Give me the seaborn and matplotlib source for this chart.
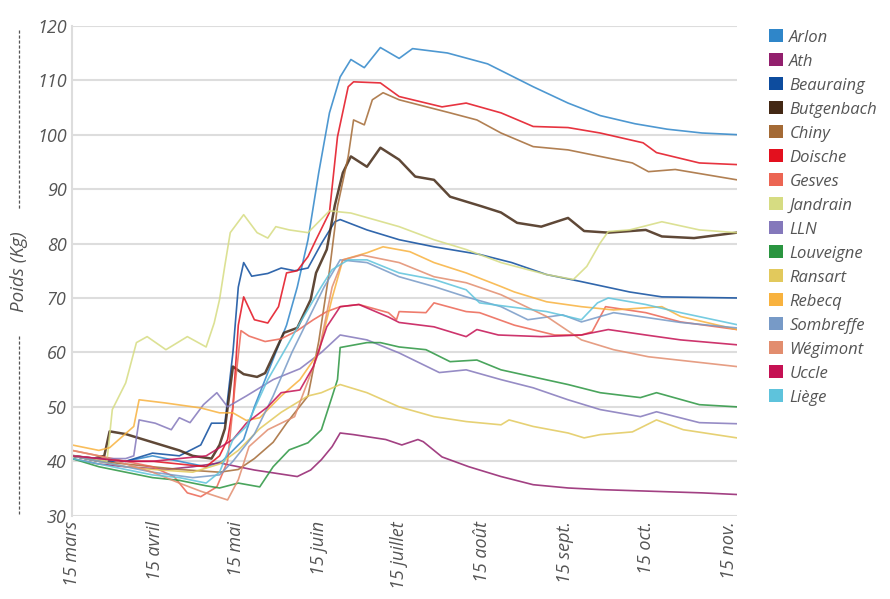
import matplotlib
matplotlib.use("Agg")
import matplotlib.pyplot as plt
import matplotlib.patches as mpatches
from matplotlib.lines import Line2D
import seaborn as sns
import pandas as pd

# days counted from 15 March
arlon_day = [0, 10, 20, 30, 40, 50, 56, 60, 64, 68, 72, 76, 80, 84, 88, 92, 96, 100, 104, 109, 115, 122, 127, 140, 155, 172, 185, 197, 210, 222, 235, 248]
arlon_kg = [41, 40, 40, 41, 40, 39, 40, 42, 44, 50, 55, 60, 65, 72, 80.7, 93, 104, 110.6, 113.8, 112.3, 116, 114, 115.8, 115, 113, 108.8, 105.8, 103.5, 102, 101, 100.3, 100]

ath_day = [0, 10, 20, 35, 45, 55, 68, 80, 84, 89, 93, 97, 100, 105, 117, 123, 129, 131, 138, 148, 160, 172, 185, 197, 235, 248]
ath_kg = [40.5, 39.5, 39, 38.5, 39, 39.7, 38.4, 37.5, 37.2, 38.4, 40.3, 42.7, 45.2, 44.9, 44, 43, 44, 43.6, 40.8, 39, 37.2, 35.7, 35.1, 34.8, 34.2, 33.9]

beauraing_day = [0, 10, 20, 30, 40, 48, 52, 57, 60, 62, 64, 67, 73, 78, 83, 88, 93, 98, 100, 110, 122, 135, 152, 164, 177, 190, 208, 220, 248]
beauraing_kg = [41, 40, 40, 41.5, 41, 43, 47, 47, 60, 72, 76.5, 74, 74.5, 75.5, 75, 75.5, 80, 84, 84.4, 82.5, 80.7, 79.4, 78, 76.5, 74.3, 73, 71.1, 70.2, 70]

butgenbach_day = [0, 8, 12, 14, 20, 30, 40, 45, 52, 55, 57, 60, 64, 69, 72, 79, 84, 89, 91, 95, 98, 101, 104, 110, 115, 122, 128, 135, 141, 153, 160, 166, 175, 185, 191, 200, 214, 220, 232, 248]
butgenbach_kg = [41, 40.5, 41, 45.5, 45, 43.5, 42, 41, 40.5, 43, 46, 57.4, 56, 55.5, 56.2, 63.6, 64.5, 69.7, 74.6, 78.9, 87, 93, 96, 94.1, 97.6, 95.4, 92.3, 91.7, 88.6, 86.8, 85.7, 83.8, 83.1, 84.7, 82.3, 82, 82.5, 81.3, 81, 82]

chiny_day = [0, 10, 20, 30, 40, 55, 62, 68, 75, 80, 88, 92, 96, 99, 103, 105, 109, 112, 116, 122, 141, 151, 160, 172, 185, 197, 209, 215, 225, 248]
chiny_kg = [41, 40, 39.5, 39, 38.5, 38, 38.5, 40.5, 43.5, 47, 52, 62, 75, 86.8, 96, 102.7, 101.8, 106.4, 107.7, 106.4, 104, 102.7, 100.3, 97.8, 97.2, 96, 94.8, 93.2, 93.6, 91.7]

doische_day = [0, 10, 20, 30, 40, 50, 55, 58, 60, 62, 64, 68, 73, 77, 80, 84, 88, 91, 96, 99, 103, 105, 115, 122, 138, 147, 160, 172, 185, 197, 213, 218, 234, 248]
doische_kg = [41, 40.5, 40, 40, 39.5, 39, 41, 44, 50, 65, 70.2, 66, 65.4, 68.4, 74.6, 75, 77.6, 80.7, 85.7, 99.6, 108.8, 109.7, 109.5, 107, 105.1, 105.8, 104, 101.5, 101.3, 100.3, 98.5, 96.7, 94.8, 94.5]

gesves_day = [0, 10, 20, 30, 38, 43, 48, 54, 58, 61, 63, 66, 72, 78, 84, 90, 95, 100, 107, 118, 121, 122, 132, 135, 147, 152, 165, 180, 190, 194, 199, 214, 227, 248]
gesves_kg = [42, 41, 40, 39, 37.2, 34.2, 33.5, 35.3, 40, 55, 64, 63, 62, 62.5, 64, 66, 67.5, 68.4, 68.8, 67.3, 66, 67.5, 67.3, 69.1, 67.5, 67.3, 65, 63.2, 63.2, 63.8, 68.4, 67.3, 65.6, 64.2]

jandrain_day = [0, 8, 13, 15, 20, 24, 28, 35, 43, 50, 53, 55, 57, 59, 64, 69, 73, 76, 81, 88, 96, 104, 122, 135, 147, 160, 170, 177, 187, 192, 197, 200, 208, 220, 234, 248]
jandrain_kg = [41, 40.5, 40, 49.5, 54.4, 61.8, 62.9, 60.5, 62.9, 61, 65.4, 69.7, 76, 82, 85.3, 82, 81, 83.1, 82.5, 82, 86, 85.6, 83.1, 80.7, 78.9, 76.5, 75.2, 74.3, 73.4, 75.8, 80.1, 82.2, 82.5, 84, 82.5, 82]

lln_day = [0, 10, 20, 23, 25, 31, 37, 40, 44, 49, 54, 58, 65, 75, 85, 93, 100, 110, 122, 137, 147, 160, 172, 185, 197, 212, 218, 234, 248]
lln_kg = [41, 40.5, 40.5, 41, 47.6, 47, 45.8, 48, 47.1, 50.4, 52.6, 50, 52, 55, 57, 60, 63.2, 62.3, 59.9, 56.3, 56.8, 55, 53.5, 51.3, 49.5, 48.2, 49.1, 47.1, 46.9]

louveigne_day = [0, 10, 20, 30, 40, 50, 55, 62, 70, 75, 81, 88, 93, 97, 99, 100, 110, 115, 122, 132, 141, 151, 160, 172, 185, 197, 212, 218, 234, 248]
louveigne_kg = [40.5, 39, 38, 37, 36.5, 35.5, 35.1, 36, 35.3, 39, 42.1, 43.4, 45.8, 51.9, 55, 60.9, 61.8, 61.8, 61, 60.5, 58.3, 58.6, 56.8, 55.5, 54.1, 52.6, 51.7, 52.6, 50.4, 50]

ransart_day = [0, 10, 20, 30, 45, 55, 62, 70, 78, 88, 93, 100, 110, 122, 135, 147, 160, 163, 172, 185, 191, 197, 209, 218, 228, 248]
ransart_kg = [41, 40, 39, 38.5, 38, 39.5, 42, 46, 49, 52, 52.6, 54.1, 52.6, 50, 48.2, 47.3, 46.7, 47.6, 46.4, 45.2, 44.3, 44.9, 45.4, 47.6, 45.8, 44.3]

rebecq_day = [0, 10, 14, 23, 25, 35, 48, 55, 60, 65, 70, 78, 85, 92, 97, 101, 110, 116, 126, 135, 147, 160, 165, 177, 190, 202, 220, 227, 248]
rebecq_kg = [43, 42, 42.5, 46.4, 51.3, 50.7, 49.8, 48.9, 48.9, 47.5, 48, 52, 55, 60, 70, 77, 78.3, 79.4, 78.5, 76.5, 74.6, 72.1, 71.1, 69.3, 68.4, 67.8, 68.4, 66.6, 64.2]

sombreffe_day = [0, 10, 20, 30, 45, 55, 60, 68, 75, 82, 88, 94, 100, 110, 122, 135, 147, 160, 170, 183, 190, 202, 227, 248]
sombreffe_kg = [41, 40, 39, 38, 37, 37.5, 40, 45, 52, 60, 66, 72, 77, 76.5, 73.9, 72.1, 70.2, 68.4, 66, 66.9, 65.6, 67.3, 65.5, 64.5]

wegimont_day = [0, 10, 20, 30, 40, 48, 58, 62, 66, 73, 83, 92, 97, 101, 108, 122, 135, 147, 160, 177, 190, 202, 215, 248]
wegimont_kg = [42, 41, 39.5, 38, 36, 34.5, 32.9, 36.6, 42.7, 45.8, 48.2, 60, 72, 77, 77.9, 76.5, 73.9, 72.8, 70.6, 66.6, 62.3, 60.5, 59.2, 57.4]

uccle_day = [0, 10, 20, 30, 40, 50, 60, 65, 73, 78, 85, 90, 95, 100, 107, 118, 122, 135, 147, 151, 159, 175, 190, 200, 214, 227, 248]
uccle_kg = [41, 40.5, 40, 40, 40.5, 41, 44, 47, 50, 52.6, 53.1, 57.4, 64.7, 68.4, 68.8, 66.5, 65.5, 64.7, 62.9, 64.2, 63.2, 62.9, 63.2, 64.2, 63.2, 62.3, 61.4]

liege_day = [0, 10, 20, 30, 40, 50, 55, 60, 65, 73, 80, 85, 93, 97, 103, 110, 122, 135, 147, 152, 177, 190, 196, 200, 214, 227, 248]
liege_kg = [40.5, 39.5, 38.5, 37.5, 37, 36, 38, 44, 46.4, 55, 61, 65.4, 72.1, 75.2, 77, 77, 74.6, 73.4, 71.5, 69.1, 67.5, 66, 69.1, 70, 68.8, 67.3, 65.1]

sites = ["Arlon", "Ath", "Beauraing", "Butgenbach", "Chiny", "Doische", "Gesves", "Jandrain",
         "LLN", "Louveigne", "Ransart", "Rebecq", "Sombreffe", "Wégimont", "Uccle", "Liège"]
site_days = [arlon_day, ath_day, beauraing_day, butgenbach_day, chiny_day, doische_day, gesves_day, jandrain_day,
             lln_day, louveigne_day, ransart_day, rebecq_day, sombreffe_day, wegimont_day, uccle_day, liege_day]
site_kg = [arlon_kg, ath_kg, beauraing_kg, butgenbach_kg, chiny_kg, doische_kg, gesves_kg, jandrain_kg,
           lln_kg, louveigne_kg, ransart_kg, rebecq_kg, sombreffe_kg, wegimont_kg, uccle_kg, liege_kg]
colors = ["#2f86c9", "#921f6d", "#0d4c9e", "#432814", "#a46a35", "#e3101e", "#ec6553", "#d6dc82",
          "#8478bb", "#2a9540", "#e2c95c", "#f8b23e", "#779ac7", "#e28d6e", "#c51153", "#5ec3dc"]

tick_labels = ["15 mars", "15 avril", "15 mai", "15 juin", "15 juillet", "15 août", "15 sept.", "15 oct.", "15 nov."]

start = pd.Timestamp("2013-03-15")
frames = []
for name, days, kg in zip(sites, site_days, site_kg):
    frames.append(pd.DataFrame({"date": start + pd.to_timedelta(days, unit="D"), "kg": kg, "site": name}))
df = pd.concat(frames, ignore_index=True)

sns.set_style("white")
plt.rcParams['font.family'] = ['Open Sans', 'DejaVu Sans']

fig, ax = plt.subplots(figsize=(8.9, 5.99), dpi=100)
fig.subplots_adjust(left=0.081, right=0.828, bottom=0.139, top=0.957)

sns.lineplot(data=df, x="date", y="kg", hue="site", hue_order=sites,
             palette=dict(zip(sites, colors)), estimator=None, linewidth=1.2,
             legend=False, ax=ax)
for line, name in zip(ax.lines, sites):
    line.set_alpha(0.85)
    if name == "Butgenbach":
        line.set_linewidth(1.8)

ax.set_ylim(30, 120)
ax.set_xlim(start, start + pd.Timedelta(days=248))
ax.set_yticks(range(30, 121, 10))
ax.set_xticks([pd.Timestamp(2013, m, 15) for m in range(3, 12)])
ax.set_xticklabels(tick_labels, rotation=90)
ax.set_xlabel("")
ax.set_ylabel("")
ax.grid(axis="y", color="#dddddd", linewidth=1.5)
ax.set_axisbelow(True)
for s in ["top", "right", "bottom"]:
    ax.spines[s].set_visible(False)
ax.spines["left"].set_color("#dddddd")
ax.spines["left"].set_linewidth(1.5)
ax.tick_params(length=0, pad=4, labelsize=13, labelcolor="#555555")
for lbl in ax.get_xticklabels() + ax.get_yticklabels():
    lbl.set_style("italic")

# y label with dashed lines
fig.text(0.021, 1 - 272 / 599, "Poids (Kg)", rotation=90, ha="center", va="center",
         fontsize=13.5, style="italic", color="#555555")
fig.add_artist(Line2D([0.021, 0.021], [1 - 30 / 599, 1 - 210 / 599], color="#555555",
                      linewidth=0.9, linestyle=(0, (2.5, 1.5))))
fig.add_artist(Line2D([0.021, 0.021], [1 - 336 / 599, 1 - 514 / 599], color="#555555",
                      linewidth=0.9, linestyle=(0, (2.5, 1.5))))

handles = [mpatches.Patch(facecolor=c, edgecolor="none") for c in colors]
leg = fig.legend(handles, sites, loc="upper left", bbox_to_anchor=(0.857, 0.962),
                 frameon=False, fontsize=12, handlelength=0.8, handleheight=0.8,
                 handletextpad=0.4, labelspacing=0.47, borderaxespad=0)
for t in leg.get_texts():
    t.set_style("italic")
    t.set_color("#555555")

fig.savefig("out.png", dpi=100)
